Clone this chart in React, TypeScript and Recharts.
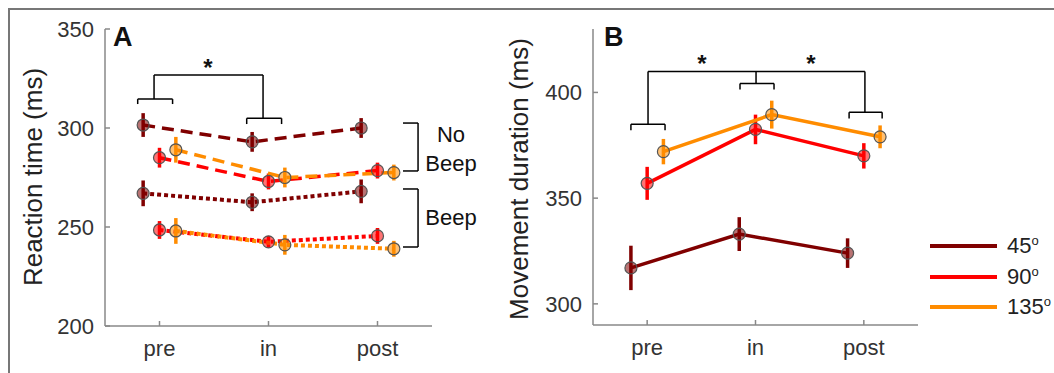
import { ComposedChart, Line, XAxis, YAxis, ErrorBar, ReferenceLine } from 'recharts'

const phases = ['pre', 'in', 'post']
const angles = ['45', '90', '135']
const colors = ['#800000', '#ff0000', '#ff8c00']
const offsets = [-0.15, 0, 0.15]

// Panel A: reaction time (ms), no beep (dashed) and beep (dotted)
const rtNoBeep = [
  [301.5, 293, 300],
  [285, 273, 278.5],
  [289, 275, 277.5],
]
const rtNoBeepErr = [
  [6, 5, 5],
  [5, 4, 4],
  [6.5, 5, 4],
]
const rtBeep = [
  [267, 262.5, 268],
  [248.5, 242.5, 245.5],
  [248, 241, 239],
]
const rtBeepErr = [
  [6.5, 4.5, 6],
  [4.5, 3, 4],
  [6.5, 5, 4],
]

// Panel B: movement duration (ms)
const md = [
  [317, 333, 324],
  [357, 382.5, 370],
  [372, 389.5, 379],
]
const mdErr = [
  [10.5, 8, 7],
  [7.8, 7, 6],
  [6, 6.6, 5.4],
]

const ticksA = [200, 250, 300, 350]
const ticksB = [300, 350, 400]

// significance brackets, in data units
const bracketsA = [
  { x1: 0.8, x2: 1.12, y: 314.6, leg: 2.5 },
  { x1: 1.8, x2: 2.12, y: 304.9, leg: 2.9 },
]
const stemsA = [
  [0.95, 314.6, 0.95, 326.8],
  [0.95, 326.8, 1.95, 326.8],
  [1.95, 326.8, 1.95, 304.9],
]
const sideBracketsA = [
  { xIn: 3.234, xOut: 3.372, top: 302.5, bottom: 278.3 },
  { xIn: 3.234, xOut: 3.372, top: 269.2, bottom: 239.9 },
]
const bracketsB = [
  { x1: 0.85, x2: 1.165, y: 384.9, leg: 2.8 },
  { x1: 1.857, x2: 2.171, y: 404.2, leg: 2.8 },
  { x1: 2.864, x2: 3.169, y: 390.6, leg: 2.9 },
]
const stemsB = [
  [1.008, 384.9, 1.008, 409.9],
  [1.008, 409.9, 3.01, 409.9],
  [2.005, 409.9, 2.005, 404.2],
  [3.01, 409.9, 3.01, 390.6],
]

const font = "'Liberation Sans', Arial, sans-serif"

const toRows = (vals: number[], errs: number[], k: number) =>
  vals.map((v, i) => ({ x: i + 1 + offsets[k], y: v, err: errs[i] }))

const makeDot = (color: string) => (props: any) => (
  <circle
    key={`d-${props.index}`}
    cx={props.cx}
    cy={props.cy}
    r={6}
    fill={color}
    fillOpacity={0.55}
    stroke="#555"
    strokeWidth={1.2}
  />
)

const seg = (a: number[], key: string) => (
  <ReferenceLine
    key={key}
    segment={[{ x: a[0], y: a[1] }, { x: a[2], y: a[3] }]}
    stroke="#000"
    strokeWidth={1.5}
    ifOverflow="visible"
  />
)

const bracketSegs = (b: { x1: number; x2: number; y: number; leg: number }, key: string) => [
  seg([b.x1, b.y, b.x2, b.y], key + 'h'),
  seg([b.x1, b.y, b.x1, b.y - b.leg], key + 'l'),
  seg([b.x2, b.y, b.x2, b.y - b.leg], key + 'r'),
]

const sideSegs = (b: { xIn: number; xOut: number; top: number; bottom: number }, key: string) => [
  seg([b.xIn, b.top, b.xOut, b.top], key + 't'),
  seg([b.xOut, b.top, b.xOut, b.bottom], key + 'v'),
  seg([b.xIn, b.bottom, b.xOut, b.bottom], key + 'b'),
]

const xAxisProps = {
  type: 'number' as const,
  dataKey: 'x',
  domain: [0.5, 3.5],
  ticks: [1, 2, 3],
  tickFormatter: (v: number) => phases[v - 1],
  allowDataOverflow: true,
  stroke: '#888',
  strokeWidth: 1.5,
  tickSize: -5,
  tickMargin: 19,
  height: 30,
  tick: { fontSize: 22, fill: '#333', fontFamily: font },
}

const yAxisProps = {
  stroke: '#888',
  strokeWidth: 1.5,
  tickSize: -5,
  tickMargin: 16,
  width: 60,
  allowDataOverflow: true,
  tick: { fontSize: 22, fill: '#333', fontFamily: font },
}

const abs = (left: number, top: number, extra: any = {}) => ({
  position: 'absolute' as const,
  left,
  top,
  fontFamily: font,
  color: '#111',
  whiteSpace: 'nowrap' as const,
  ...extra,
})

const App = () => {
  return (
    <div style={{ position: 'absolute', left: 0, top: 0, width: 1054, height: 373, overflow: 'hidden', background: '#fff' }}>
      <div style={{ position: 'absolute', left: 8, top: 8, width: 1100, height: 420, border: '2.5px solid #777' }} />

      <div style={{ position: 'absolute', left: 0, top: 0 }}>
        <ComposedChart width={440} height={373} margin={{ top: 29, right: 8, bottom: 17, left: 45 }}>
          <XAxis {...xAxisProps} />
          <YAxis {...yAxisProps} domain={[200, 350]} ticks={ticksA} />
          {bracketsA.flatMap((b, i) => bracketSegs(b, 'ba' + i))}
          {stemsA.map((s, i) => seg(s, 'sa' + i))}
          {sideBracketsA.flatMap((b, i) => sideSegs(b, 'sb' + i))}
          {rtNoBeep.map((vals, k) => (
            <Line
              key={'nb' + k}
              data={toRows(vals, rtNoBeepErr[k], k)}
              dataKey="y"
              type="linear"
              stroke={colors[k]}
              strokeWidth={3.5}
              strokeDasharray="12 7"
              dot={makeDot(colors[k])}
              activeDot={false}
              isAnimationActive={false}
            >
              <ErrorBar dataKey="err" width={0} stroke={colors[k]} strokeWidth={3.5} direction="y" />
            </Line>
          ))}
          {rtBeep.map((vals, k) => (
            <Line
              key={'b' + k}
              data={toRows(vals, rtBeepErr[k], k)}
              dataKey="y"
              type="linear"
              stroke={colors[k]}
              strokeWidth={4}
              strokeDasharray="4 3"
              dot={makeDot(colors[k])}
              activeDot={false}
              isAnimationActive={false}
            >
              <ErrorBar dataKey="err" width={0} stroke={colors[k]} strokeWidth={3.5} direction="y" />
            </Line>
          ))}
        </ComposedChart>
      </div>

      <div style={{ position: 'absolute', left: 440, top: 0 }}>
        <ComposedChart width={490} height={373} margin={{ top: 29, right: 12, bottom: 18, left: 93 }}>
          <XAxis {...xAxisProps} />
          <YAxis {...yAxisProps} domain={[290, 430]} ticks={ticksB} />
          {bracketsB.flatMap((b, i) => bracketSegs(b, 'bb' + i))}
          {stemsB.map((s, i) => seg(s, 'sbb' + i))}
          {md.map((vals, k) => (
            <Line
              key={'md' + k}
              data={toRows(vals, mdErr[k], k)}
              dataKey="y"
              type="linear"
              stroke={colors[k]}
              strokeWidth={3.5}
              dot={makeDot(colors[k])}
              activeDot={false}
              isAnimationActive={false}
            >
              <ErrorBar dataKey="err" width={0} stroke={colors[k]} strokeWidth={3.5} direction="y" />
            </Line>
          ))}
        </ComposedChart>
      </div>

      {/* axis titles */}
      <div style={abs(33, 177, { fontSize: 26, color: '#222', transform: 'translate(-50%, -50%) rotate(-90deg)' })}>
        Reaction time (ms)
      </div>
      <div style={abs(519, 179, { fontSize: 26, color: '#222', transform: 'translate(-50%, -50%) rotate(-90deg)' })}>
        Movement duration (ms)
      </div>

      {/* panel letters and annotations */}
      <div style={abs(113, 24, { fontSize: 27, fontWeight: 700, lineHeight: 1 })}>A</div>
      <div style={abs(604, 24, { fontSize: 27, fontWeight: 700, lineHeight: 1 })}>B</div>
      <div style={abs(208, 56, { fontSize: 24, fontWeight: 700, lineHeight: 1, transform: 'translateX(-50%)' })}>*</div>
      <div style={abs(702, 52, { fontSize: 24, fontWeight: 700, lineHeight: 1, transform: 'translateX(-50%)' })}>*</div>
      <div style={abs(811, 52, { fontSize: 24, fontWeight: 700, lineHeight: 1, transform: 'translateX(-50%)' })}>*</div>
      <div style={abs(451, 120, { fontSize: 22, lineHeight: '29px', textAlign: 'center', transform: 'translateX(-50%)' })}>
        No
        <br />
        Beep
      </div>
      <div style={abs(451, 203, { fontSize: 22, lineHeight: '29px', transform: 'translateX(-50%)' })}>Beep</div>

      {/* legend */}
      {angles.map((a, k) => (
        <div key={a} style={abs(930, 236 + k * 30.5, { display: 'flex', alignItems: 'center', height: 20 })}>
          <div style={{ width: 67, height: 4, background: colors[k] }} />
          <div style={{ marginLeft: 10, fontSize: 22, color: '#222', lineHeight: 1 }}>
            {a}
            <sup style={{ fontSize: 13, verticalAlign: 'top', position: 'relative', top: -1 }}>o</sup>
          </div>
        </div>
      ))}
    </div>
  )
}

export default App
